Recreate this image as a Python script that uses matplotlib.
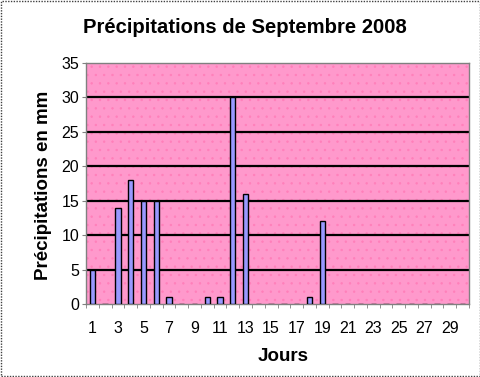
import matplotlib
matplotlib.use("Agg")
import matplotlib.pyplot as plt
from matplotlib.patches import Rectangle
from matplotlib.ticker import MultipleLocator, FixedLocator

plt.rcParams['font.family'] = ['Liberation Sans', 'DejaVu Sans']
plt.rcParams['hatch.linewidth'] = 0.5

days = list(range(1, 31))
rain = [5, 0, 14, 18, 15, 15, 1, 0, 0, 1, 1, 30, 16, 0, 0, 0, 0, 1, 12, 0,
        0, 0, 0, 0, 0, 0, 0, 0, 0, 0]
tick_days = list(range(1, 31, 2))
title = "Précipitations de Septembre 2008"
xlabel = "Jours"
ylabel = "Précipitations en mm"

W, H = 481, 377
fig = plt.figure(figsize=(W / 100, H / 100), dpi=100)
ax = fig.add_axes([86 / W, 1 - 304 / H, (469 - 86) / W, (304 - 63) / H])
ax.set_facecolor('#FF99CC')
ax.add_patch(Rectangle((0, 0), 1, 1, transform=ax.transAxes, facecolor='none',
                       hatch='..', edgecolor='#FF7FBA', linewidth=0, zorder=0.5))

ax.bar(days, rain, width=0.42, color='#9999FF', edgecolor='black', linewidth=1, zorder=3)

ax.set_xlim(0.5, 30.5)
ax.set_ylim(0, 35)
ax.yaxis.set_major_locator(MultipleLocator(5))
for y in range(5, 35, 5):
    ax.axhline(y, color='black', linewidth=1.6, zorder=2)

ax.set_xticks(tick_days)
ax.set_xticklabels([str(d) for d in tick_days])
ax.xaxis.set_minor_locator(FixedLocator([d + 0.5 for d in range(0, 31)]))
ax.tick_params(axis='x', which='major', length=0, pad=12, labelsize=11.5)
ax.tick_params(axis='x', which='minor', length=3, color='#808080', direction='out')
ax.tick_params(axis='y', which='major', length=3, color='#808080', labelsize=11.5, pad=2)

for s in ax.spines.values():
    s.set_color('#808080')
    s.set_linewidth(1)

fig.text(245 / W, 1 - 33 / H, title, fontsize=14.6, fontweight='bold',
         ha='center', va='baseline')
fig.text(283 / W, 1 - 361 / H, xlabel, fontsize=13.5, fontweight='bold',
         ha='center', va='baseline')
fig.text(44 / W, 1 - 185 / H, ylabel, fontsize=13.5, fontweight='bold',
         ha='center', va='center', rotation=90)

fig.patches.append(Rectangle((0.002, 0.003), 0.995, 0.994, transform=fig.transFigure,
                             fill=False, edgecolor='#404040', linewidth=1, linestyle=(0, (1, 1))))

fig.savefig('out.png', dpi=100)
